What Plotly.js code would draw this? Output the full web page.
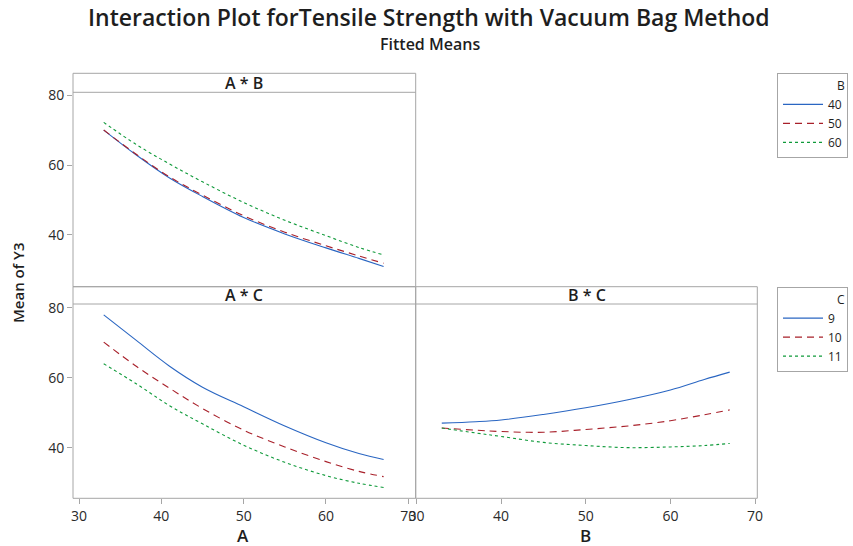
<!DOCTYPE html>
<html>
<head>
<meta charset="utf-8">
<script src="https://cdn.plot.ly/plotly-3.0.1.min.js"></script>
<style>html,body{margin:0;padding:0;background:#fff}#chart{width:853px;height:546px}</style>
</head>
<body>
<div id="chart"></div>
<script>
// A * B panel
const abX = [33, 37, 41, 45, 50, 55, 60, 64, 67];
const abB40 = [70.0, 62.8, 56.3, 51.0, 45.0, 40.3, 36.3, 33.3, 31.0];
const abB50 = [70.0, 63.0, 56.6, 51.4, 45.5, 40.8, 36.9, 34.0, 31.9];
const abB60 = [72.2, 65.8, 60.3, 55.2, 49.3, 44.2, 39.8, 36.4, 34.3];
// A * C panel
const acX = [33, 37, 41, 45, 50, 55, 60, 64, 67];
const acC9 = [78.0, 70.6, 63.3, 57.3, 51.7, 46.2, 41.4, 38.3, 36.6];
const acC10 = [70.2, 63.2, 57.0, 51.2, 45.0, 40.2, 36.0, 33.2, 31.7];
const acC11 = [64.0, 58.2, 52.0, 46.8, 40.7, 35.8, 32.0, 29.8, 28.6];
// B * C panel
const bcX = [33, 37, 40, 45, 50, 55, 60, 64, 67];
const bcC9 = [47.0, 47.4, 47.9, 49.5, 51.4, 53.7, 56.5, 59.5, 61.6];
const bcC10 = [45.6, 45.0, 44.6, 44.4, 45.2, 46.2, 47.7, 49.4, 50.8];
const bcC11 = [45.6, 44.2, 43.2, 41.5, 40.6, 40.0, 40.2, 40.6, 41.2];

const bLevels = ['40', '50', '60'];
const cLevels = ['9', '10', '11'];
const xTicks = [30, 40, 50, 60, 70];
const yTicks = [40, 60, 80];

const W = 853, H = 546;
const px = v => v / W, py = v => 1 - v / H;

const blue = '#2a66c2', red = '#a8202a', green = '#0f9a3a';
const dashes = ['solid', '7px,5px', '3px,3px'];
const colors = [blue, red, green];

function tr(x, y, i, name, xa, ya, leg, show) {
  return {x: x, y: y, type: 'scatter', mode: 'lines', name: name,
    line: {color: colors[i], width: 1.1, dash: dashes[i], shape: 'spline'},
    xaxis: xa, yaxis: ya, legend: leg, showlegend: show, hoverinfo: 'skip'};
}
const data = [
  tr(abX, abB40, 0, bLevels[0], 'x3', 'y3', 'legend', true),
  tr(abX, abB50, 1, bLevels[1], 'x3', 'y3', 'legend', true),
  tr(abX, abB60, 2, bLevels[2], 'x3', 'y3', 'legend', true),
  tr(acX, acC9, 0, cLevels[0], 'x', 'y', 'legend2', true),
  tr(acX, acC10, 1, cLevels[1], 'x', 'y', 'legend2', true),
  tr(acX, acC11, 2, cLevels[2], 'x', 'y', 'legend2', true),
  tr(bcX, bcC9, 0, cLevels[0], 'x2', 'y2', 'legend2', false),
  tr(bcX, bcC10, 1, cLevels[1], 'x2', 'y2', 'legend2', false),
  tr(bcX, bcC11, 2, cLevels[2], 'x2', 'y2', 'legend2', false)
];

const fam = '"Open Sans", "Noto Sans", sans-serif';
const gray = '#a6a6a6';
const txt = '#1e1e1e';
const tickFont = {family: fam, size: 14, color: '#2a2a2a', weight: 500};

const L = 73, M = 415.7, R = 757.3;
const topHdr = 73.3, topPlot = 92.3, midHdr = 286.7, botPlot = 304, bot = 498.3;

const baseX = {tickmode: 'array', tickvals: xTicks, ticks: 'outside', ticklen: 5, tickcolor: gray,
  showgrid: false, zeroline: false, showline: false, tickfont: tickFont};
const baseY = {tickmode: 'array', tickvals: yTicks, ticks: 'outside', ticklen: 5, tickcolor: gray,
  showgrid: false, zeroline: false, showline: false, tickfont: tickFont};

const legFont = {family: fam, size: 12, color: txt, weight: 500};

const layout = {
  width: W, height: H,
  margin: {l: 0, r: 0, t: 0, b: 0},
  paper_bgcolor: '#fff', plot_bgcolor: 'rgba(0,0,0,0)',
  font: {family: fam, color: txt},
  xaxis: Object.assign({}, baseX, {domain: [px(L), px(M)], range: [29.27, 70.9], anchor: 'y'}),
  yaxis: Object.assign({}, baseY, {domain: [py(bot), py(botPlot)], range: [25.5, 81.1], anchor: 'x'}),
  xaxis2: Object.assign({}, baseX, {domain: [px(M), px(R)], range: [29.92, 70.26], anchor: 'y2'}),
  yaxis2: Object.assign({}, baseY, {domain: [py(bot), py(botPlot)], range: [25.5, 81.1], anchor: 'x2', ticks: '', showticklabels: false}),
  xaxis3: Object.assign({}, baseX, {domain: [px(L), px(M)], range: [29.27, 70.9], anchor: 'y3', ticks: '', showticklabels: false}),
  yaxis3: Object.assign({}, baseY, {domain: [py(midHdr), py(topPlot)], range: [25.2, 80.8], anchor: 'x3'}),
  legend: {x: px(777), y: py(73.3), xanchor: 'left', yanchor: 'top', bordercolor: gray, borderwidth: 1,
    bgcolor: '#fff', font: legFont, itemwidth: 40, tracegroupgap: 0,
    title: {text: 'B', side: 'top right', font: legFont}},
  legend2: {x: px(777), y: py(287), xanchor: 'left', yanchor: 'top', bordercolor: gray, borderwidth: 1,
    bgcolor: '#fff', font: legFont, itemwidth: 40, tracegroupgap: 0,
    title: {text: 'C', side: 'top right', font: legFont}},
  shapes: [
    {type: 'rect', xref: 'paper', yref: 'paper', x0: px(L), x1: px(M), y0: py(midHdr), y1: py(topHdr), line: {color: gray, width: 1}},
    {type: 'line', xref: 'paper', yref: 'paper', x0: px(L), x1: px(M), y0: py(topPlot), y1: py(topPlot), line: {color: gray, width: 1}},
    {type: 'rect', xref: 'paper', yref: 'paper', x0: px(L), x1: px(M), y0: py(bot), y1: py(midHdr), line: {color: gray, width: 1}},
    {type: 'line', xref: 'paper', yref: 'paper', x0: px(L), x1: px(M), y0: py(botPlot), y1: py(botPlot), line: {color: gray, width: 1}},
    {type: 'rect', xref: 'paper', yref: 'paper', x0: px(M), x1: px(R), y0: py(bot), y1: py(midHdr), line: {color: gray, width: 1}},
    {type: 'line', xref: 'paper', yref: 'paper', x0: px(M), x1: px(R), y0: py(botPlot), y1: py(botPlot), line: {color: gray, width: 1}}
  ],
  annotations: [
    {text: 'Interaction Plot forTensile Strength with Vacuum Bag Method', xref: 'paper', yref: 'paper', x: px(429), y: py(17), showarrow: false, xanchor: 'center', yanchor: 'middle', font: {family: fam, size: 23, color: txt, weight: 600}},
    {text: 'Fitted Means', xref: 'paper', yref: 'paper', x: px(430), y: py(44), showarrow: false, xanchor: 'center', yanchor: 'middle', font: {family: fam, size: 16, color: txt, weight: 600}},
    {text: 'A * B', xref: 'paper', yref: 'paper', x: px((L + M) / 2), y: py((topHdr + topPlot) / 2), showarrow: false, xanchor: 'center', yanchor: 'middle', font: {family: fam, size: 16, color: txt, weight: 600}},
    {text: 'A * C', xref: 'paper', yref: 'paper', x: px((L + M) / 2), y: py((midHdr + botPlot) / 2), showarrow: false, xanchor: 'center', yanchor: 'middle', font: {family: fam, size: 16, color: txt, weight: 600}},
    {text: 'B * C', xref: 'paper', yref: 'paper', x: px((M + R) / 2), y: py((midHdr + botPlot) / 2), showarrow: false, xanchor: 'center', yanchor: 'middle', font: {family: fam, size: 16, color: txt, weight: 600}},
    {text: 'Mean of Y3', xref: 'paper', yref: 'paper', x: px(18), y: py(283), showarrow: false, textangle: -90, xanchor: 'center', yanchor: 'middle', font: {family: fam, size: 15, color: txt, weight: 600}},
    {text: 'A', xref: 'paper', yref: 'paper', x: px(243), y: py(535), showarrow: false, xanchor: 'center', yanchor: 'middle', font: {family: fam, size: 17, color: txt, weight: 600}},
    {text: 'B', xref: 'paper', yref: 'paper', x: px(585), y: py(535), showarrow: false, xanchor: 'center', yanchor: 'middle', font: {family: fam, size: 17, color: txt, weight: 600}}
  ]
};

Plotly.newPlot('chart', data, layout, {staticPlot: true, displayModeBar: false});
</script>
</body>
</html>
